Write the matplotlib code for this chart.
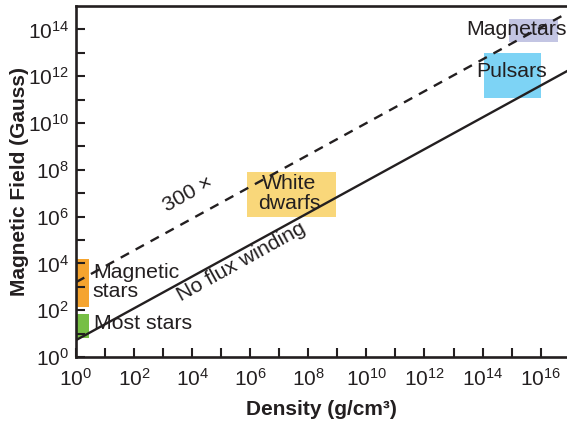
import numpy as np
import matplotlib
matplotlib.use('Agg')
import matplotlib.pyplot as plt
from matplotlib.patches import Rectangle

plt.rcParams['font.family'] = ['Liberation Sans', 'DejaVu Sans']
plt.rcParams['mathtext.fontset'] = 'custom'
plt.rcParams['mathtext.rm'] = 'Liberation Sans'
plt.rcParams['mathtext.it'] = 'Liberation Sans'
plt.rcParams['mathtext.bf'] = 'Liberation Sans:bold'

ink = '#231f20'

# object regions: name, log density range, log field range, colour
regions = ['Most stars', 'Magnetic stars', 'White dwarfs', 'Pulsars', 'Magnetars']
rho_lo = [0.0, 0.0, 5.9, 14.05, 14.9]
rho_hi = [0.45, 0.45, 8.95, 16.0, 16.6]
b_lo = [0.8, 2.15, 6.0, 11.05, 13.45]
b_hi = [1.85, 4.2, 7.9, 13.0, 14.45]
colors = ['#77bf45', '#f5a42f', '#f9d77a', '#7dd3f5', '#c3c5e3']

# "no flux winding" relation: log B = a + k log rho
fit_a = 0.72
fit_k = 0.68
factor = 300

xticks = np.arange(0, 17)
yticks = np.arange(0, 15)

fig = plt.figure(figsize=(5.67, 4.21), dpi=100)
ax = fig.add_axes([76 / 567, 1 - 357 / 421, 1 - 76 / 567, 351 / 421])

xmax = 10 ** ((567 - 76) / 29.04)
ax.set_xscale('log')
ax.set_yscale('log')
ax.set_xlim(1, xmax)
ax.set_ylim(1, 1e15)

for lo, hi, blo, bhi, c in zip(rho_lo, rho_hi, b_lo, b_hi, colors):
    ax.add_patch(Rectangle((10 ** lo, 10 ** blo), 10 ** hi - 10 ** lo,
                           10 ** bhi - 10 ** blo, color=c, lw=0, zorder=1))

lr = np.linspace(0, np.log10(xmax), 200)
rho = 10 ** lr
b = 10 ** (fit_a + fit_k * lr)
ax.plot(rho, b, color=ink, lw=1.7, zorder=3)
ax.plot(rho, factor * b, color=ink, lw=1.7, zorder=3, dashes=(4, 3.2))

fs = 15.3
ax.text(10 ** 0.58, 10 ** 3.2, 'Magnetic\nstars', fontsize=fs, color=ink,
        ha='left', va='center', linespacing=0.95, zorder=4)
ax.text(10 ** 0.62, 10 ** 1.45, 'Most stars', fontsize=fs, color=ink,
        ha='left', va='center', zorder=4)
ax.text(10 ** 7.35, 10 ** 6.98, 'White\ndwarfs', fontsize=fs, color=ink,
        ha='center', va='center', linespacing=1.05, zorder=4)
ax.text(10 ** 15.0, 10 ** 12.2, 'Pulsars', fontsize=fs, color=ink,
        ha='center', va='center', zorder=4)
ax.text(10 ** 15.17, 10 ** 14.0, 'Magnetars', fontsize=fs, color=ink,
        ha='center', va='center', zorder=4)
ax.text(10 ** 3.85, 10 ** 6.95, '300 \u00d7', fontsize=fs, color=ink,
        ha='center', va='center', rotation=29, zorder=4)
ax.text(10 ** 5.7, 10 ** 4.05, 'No flux winding', fontsize=fs, color=ink,
        ha='center', va='center', rotation=29, zorder=4)

ax.set_xticks([10.0 ** i for i in xticks])
ax.set_xticklabels(['$10^{%d}$' % i if i % 2 == 0 else '' for i in xticks])
ax.set_yticks([10.0 ** i for i in yticks])
ax.set_yticklabels(['$10^{%d}$' % i if i % 2 == 0 else '' for i in yticks])
ax.minorticks_off()
ax.tick_params(direction='in', length=6.5, width=1.5, colors=ink,
               labelsize=15, pad=5)
ax.tick_params(axis='x', pad=8)

for s in ['left', 'bottom', 'top']:
    ax.spines[s].set_linewidth(1.9)
    ax.spines[s].set_color(ink)
ax.spines['right'].set_visible(False)

ax.set_xlabel('Density (g/cm\u00b3)', fontsize=15, fontweight='bold', color=ink, labelpad=7)
ax.set_ylabel('Magnetic Field (Gauss)', fontsize=15, fontweight='bold', color=ink, labelpad=-1)

fig.savefig('out.png', dpi=100)
